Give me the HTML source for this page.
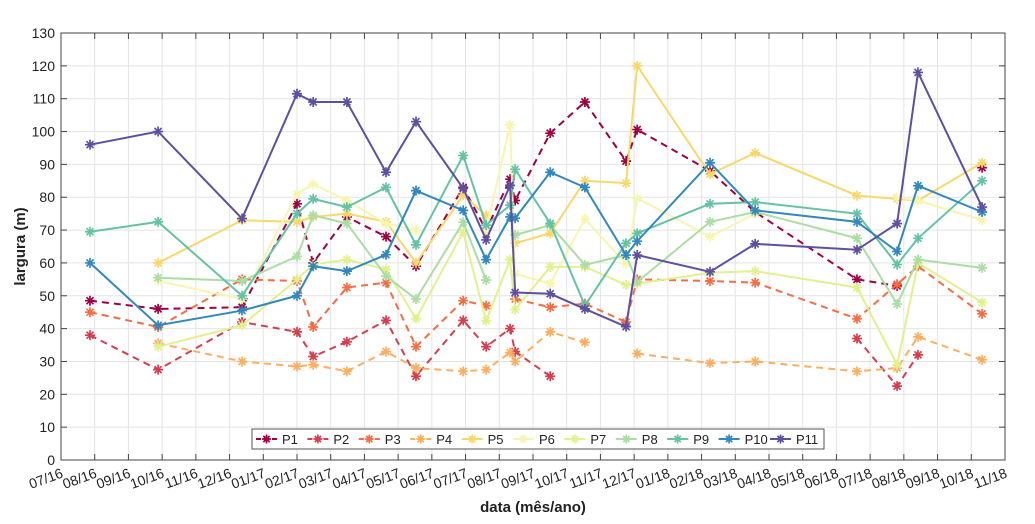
<!DOCTYPE html>
<html><head><meta charset="utf-8"><style>
body{margin:0;background:#fff;font-family:"Liberation Sans",Arial,sans-serif}
svg{display:block}
.tk{font-family:"Liberation Sans",Arial,sans-serif;font-size:14px;fill:#222}
.tt{font-family:"Liberation Sans",Arial,sans-serif;font-size:15px;font-weight:bold;fill:#222}
.lgt{font-family:"Liberation Sans",Arial,sans-serif;font-size:13px;fill:#222}
</style></head><body>
<svg id="c" width="1035" height="524" xmlns="http://www.w3.org/2000/svg"></svg>
<script>
const tickLabels=["07/16","08/16","09/16","10/16","11/16","12/16","01/17","02/17","03/17","04/17","05/17","06/17","07/17","08/17","09/17","10/17","11/17","12/17","01/18","02/18","03/18","04/18","05/18","06/18","07/18","08/18","09/18","10/18","11/18"];
const yTicks=[0,10,20,30,40,50,60,70,80,90,100,110,120,130];
const dates=[0.86,2.88,5.37,7.00,7.48,8.48,9.64,10.53,11.93,12.61,13.32,13.47,14.51,15.54,16.76,17.09,19.25,20.59,23.61,24.80,25.42,27.32];
const seriesNames=["P1","P2","P3","P4","P5","P6","P7","P8","P9","P10","P11"];
const P1=[48.5,46,46.5,78,60,74,68,59,83,70,85.5,79,99.5,109,91,100.6,88,75.5,55,53,null,89];
const P2=[38,27.5,42,39,31.5,36,42.5,25.5,42.5,34.5,40,33,25.5,null,null,null,null,null,37,22.5,32,null];
const P3=[45,40.5,55,54.5,40.5,52.5,54,34.5,48.5,47,null,49,46.5,47.6,42,55,54.5,54,43,53.5,59,44.5];
const P4=[null,35.5,30,28.5,29,27,33,28,27,27.5,32.7,30,39,35.8,null,32.4,29.5,30,27,28,37.5,30.5];
const P5=[null,60,73,72.5,74,75,72.5,60,80.6,74.5,null,66,69,85,84.3,120,87,93.5,80.5,79.5,79,90.5];
const P6=[null,54.5,49,81,84,79,72,70,null,70,102,56.7,53.7,73.4,59.7,79.7,68,75,null,80,79,73];
const P7=[null,34.5,41,55,59.5,61,58,43,69.4,42.4,61,45.8,58.8,58.8,53.3,53.7,57,57.5,52.5,29,60,48];
const P8=[null,55.5,54.5,62,74.5,72,56,49,72.4,54.8,null,68.5,71.5,59.4,62.4,54.2,72.5,75.5,67.5,47.5,61,58.5];
const P9=[69.5,72.5,50,75,79.5,77,83,65.5,92.7,71.5,77.6,88.5,72,47,66,69,78,78.5,75,59.5,67.5,85];
const P10=[60,41,45.5,50,59,57.5,62.5,82,76,61,74,73.6,87.6,83,62.4,66.6,90.5,76,72.5,63.5,83.5,75.5];
const P11=[96,100,73.5,111.5,109,109,87.6,103,82.7,67,83.6,51,50.6,46,40.6,62.4,57.3,65.8,64,72,118,77];
const allSeries=[P1,P2,P3,P4,P5,P6,P7,P8,P9,P10,P11];
const colors=["#9e0142","#d53e4f","#f46d43","#fdae61","#f9d86a","#f7f5b0","#e2f08e","#abdda4","#66c2a5","#3288bd","#5e4fa2"];
const dashed=[true,true,true,true,false,false,false,false,false,false,false];

const L=61,R=1005,T=33,B=460;
const xs=m=>L+m*(R-L)/28;
const ys=v=>B-v*(B-T)/130;
const NS="http://www.w3.org/2000/svg";
const svg=document.getElementById('c');
function mk(t,a,p){const e=document.createElementNS(NS,t);for(const k in a)e.setAttribute(k,a[k]);(p||svg).appendChild(e);return e;}

const grid=mk('g',{});


tickLabels.forEach((t,i)=>{mk('line',{x1:xs(i),x2:xs(i),y1:T,y2:B,stroke:'#e4e4e4','stroke-width':1},grid);});
yTicks.forEach(v=>{mk('line',{x1:L,x2:R,y1:ys(v),y2:ys(v),stroke:'#e4e4e4','stroke-width':1},grid);});
mk('rect',{x:L,y:T,width:R-L,height:B-T,fill:'none',stroke:'#444','stroke-width':1});

const yax=mk('g',{'text-anchor':'end'});


yTicks.forEach(v=>{
  mk('line',{x1:L,x2:L+6,y1:ys(v),y2:ys(v),stroke:'#444'},yax);
  mk('line',{x1:R,x2:R-6,y1:ys(v),y2:ys(v),stroke:'#444'},yax);
  const t=mk('text',{x:L-6,y:ys(v)+5,class:'tk'},yax);t.textContent=v;
});
const xax=mk('g',{'text-anchor':'end'});


tickLabels.forEach((s,i)=>{
  const x=xs(i);
  mk('line',{x1:x,x2:x,y1:B,y2:B-6,stroke:'#444'},xax);
  mk('line',{x1:x,x2:x,y1:T,y2:T+6,stroke:'#444'},xax);
  const t=mk('text',{x:x+3,y:B+17,class:'tk',transform:`rotate(-20 ${x+3} ${B+17})`},xax);t.textContent=s;
});
const xt=mk('text',{x:(L+R)/2,y:512,'text-anchor':'middle',class:'tt'});
xt.textContent='data (mês/ano)';


const yt=mk('text',{x:25,y:(T+B)/2,'text-anchor':'middle',class:'tt',transform:`rotate(-90 25 ${(T+B)/2})`});
yt.textContent='largura (m)';



function star(g,x,y,c,r){
  const d=`M${x-r},${y}H${x+r}M${x},${y-r}V${y+r}M${x-r*.7},${y-r*.7}L${x+r*.7},${y+r*.7}M${x-r*.7},${y+r*.7}L${x+r*.7},${y-r*.7}`;
  mk('path',{d:d,stroke:c,'stroke-width':1.7,fill:'none'},g);
}
allSeries.forEach((vals,si)=>{
  const g=mk('g',{});
  
  
  let seg=[];const segs=[];
  vals.forEach((v,i)=>{if(v==null){if(seg.length)segs.push(seg);seg=[];}else seg.push([xs(dates[i]),ys(v)]);});
  if(seg.length)segs.push(seg);
  segs.forEach(s=>{if(s.length>1)mk('polyline',{points:s.map(p=>p.join(',')).join(' '),fill:'none',stroke:colors[si],'stroke-width':2,'stroke-dasharray':dashed[si]?'7,5':'none'},g);});
  vals.forEach((v,i)=>{if(v!=null)star(g,xs(dates[i]),ys(v),colors[si],5);});
});

const lg=mk('g',{});


mk('rect',{x:252,y:429,width:572,height:20,fill:'#fff',stroke:'#555','stroke-width':1},lg);
seriesNames.forEach((n,i)=>{
  const x0=256+i*51.4;
  const e=mk('g',{},lg);
  
  
  mk('line',{x1:x0,x2:x0+21,y1:439,y2:439,stroke:colors[i],'stroke-width':2,'stroke-dasharray':dashed[i]?'5,3':'none'},e);
  star(e,x0+10.5,439,colors[i],4.5);
  const t=mk('text',{x:x0+26,y:444,class:'lgt'},e);t.textContent=n;
});
</script>
</body></html>
